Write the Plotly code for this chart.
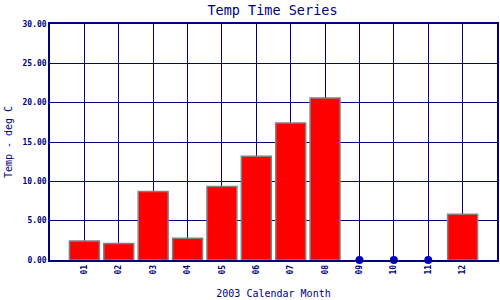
import plotly.graph_objects as go

months = ["01", "02", "03", "04", "05", "06", "07", "08", "09", "10", "11", "12"]
temps = [2.4, 2.1, 8.7, 2.75, 9.35, 13.2, 17.4, 20.6, None, None, None, 5.8]
y_ticks = [0, 5, 10, 15, 20, 25, 30]

NAVY = "#000080"
pos = list(range(1, len(months) + 1))

bar_x = [p for p, t in zip(pos, temps) if t is not None]
bar_y = [t for t in temps if t is not None]
miss_x = [p for p, t in zip(pos, temps) if t is None]
miss_y = [0 for t in temps if t is None]

fig = go.Figure()
fig.add_trace(go.Bar(
    x=bar_x, y=bar_y, width=0.87,
    marker=dict(color="#FF0000", line=dict(color="#808080", width=1.5)),
    showlegend=False,
))
fig.add_trace(go.Scatter(
    x=miss_x, y=miss_y, mode="markers",
    marker=dict(color="#0000CC", size=8),
    showlegend=False, cliponaxis=False,
))

fig.update_layout(
    width=500, height=300,
    margin=dict(l=50, r=1, t=24, b=40),
    paper_bgcolor="white", plot_bgcolor="white",
    title=dict(text="Temp Time Series", x=0.545, xanchor="center", y=0.982, yanchor="top",
               font=dict(family="DejaVu Sans Mono", size=13.5, color=NAVY)),
    font=dict(family="DejaVu Sans Mono", color=NAVY),
)
fig.update_xaxes(
    range=[0, 13], tickvals=pos, ticktext=months, tickangle=-90,
    showgrid=True, gridcolor=NAVY, gridwidth=1,
    showline=True, linecolor=NAVY, linewidth=1.5, mirror=True,
    zeroline=False, ticks="",
    tickfont=dict(family="DejaVu Sans Mono", size=8, color=NAVY, weight="bold"),
    title=dict(text="2003 Calendar Month", standoff=16,
               font=dict(family="DejaVu Sans Mono", size=10, color=NAVY)),
)
fig.update_yaxes(
    range=[0, 30], tickvals=y_ticks, tickformat=".2f",
    showgrid=True, gridcolor=NAVY, gridwidth=1,
    showline=True, linecolor=NAVY, linewidth=1.5, mirror=True,
    zeroline=False, ticks="",
    tickfont=dict(family="DejaVu Sans Mono", size=8, color=NAVY, weight="bold"),
    title=dict(text="Temp - deg C", standoff=8,
               font=dict(family="DejaVu Sans Mono", size=10, color=NAVY)),
)

fig.write_html("out.html")
